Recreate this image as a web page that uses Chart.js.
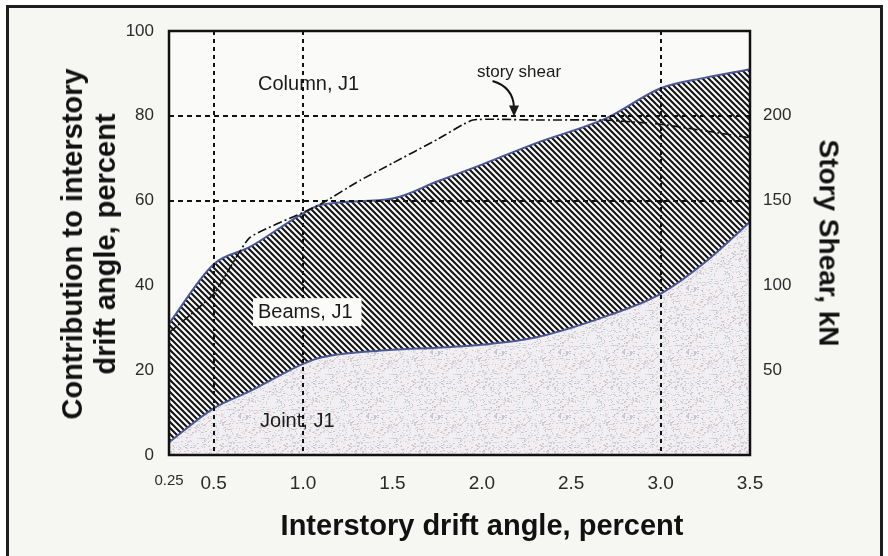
<!DOCTYPE html>
<html>
<head>
<meta charset="utf-8">
<title>Contribution to interstory drift angle</title>
<script src="https://cdn.jsdelivr.net/npm/chart.js@4.4.1/dist/chart.umd.min.js"></script>
<style>
  html, body { margin: 0; padding: 0; background: #fff; }
  #wrap  { position: relative; width: 888px; height: 556px; overflow: hidden; background: #fff; }
  #frame { position: absolute; left: 6px; top: 5px; width: 871px; height: 580px;
           border: 3px solid #1e1e1e; background: #f6f6f3; }
  #chart { position: absolute; left: 0; top: 0; }
  .ttl   { position: absolute; font-family: "Liberation Sans", Arial, sans-serif; font-weight: bold;
           color: #111; white-space: nowrap; text-align: center; }
</style>
</head>
<body>
<div id="wrap">
  <div id="frame"></div>
  <canvas id="chart" width="888" height="556"></canvas>
  <div class="ttl" style="left:89px;top:244px;font-size:29px;line-height:33px;transform:translate(-50%,-50%) rotate(-90deg)">Contribution to interstory<br>drift angle, percent</div>
  <div class="ttl" style="left:482px;top:525px;font-size:29px;line-height:29px;transform:translate(-50%,-50%)">Interstory drift angle, percent</div>
  <div class="ttl" style="left:829px;top:243px;font-size:28px;line-height:29px;transform:translate(-50%,-50%) rotate(90deg)">Story Shear, kN</div>
</div>

<script>
// ---- data ----
const drift      = [0.25, 0.5, 0.7, 1.0, 1.1, 1.5, 1.75, 2.0, 2.3, 2.7, 3.0, 3.25, 3.5];   // % drift
const jointPct   = [3, 11, 15, 21.5, 23, 24.8, 25.3, 26, 27.7, 32.8, 38, 45.5, 55];      // top of joint band
const beamTopPct = [31, 45, 49, 57, 59, 60.5, 64.5, 68.5, 73.5, 79.5, 86.5, 89, 91];     // top of beam band
const shearDrift = [0.25, 0.5, 0.7, 1.0, 1.1, 1.32, 1.5, 1.75, 1.95, 2.3, 2.68, 3.0, 3.5];
const shearKN    = [72, 95, 128, 143, 148, 162, 172, 186, 197.5, 197.5, 197.5, 195, 187];

const xTicks   = [0.25, 0.5, 1.0, 1.5, 2.0, 2.5, 3.0, 3.5];
const xGridAt  = [0.5, 1.0, 3.0];
const yGridAt  = [60, 80];

const FONT = '"Liberation Sans", Arial, sans-serif';
const INK  = '#2a2a2a';
const EDGE = '#4b5794';

const pts = (xs, ys) => xs.map((x, i) => ({ x, y: ys[i] }));

// diagonal hatch for the beam band
function hatchPattern() {
  const c = document.createElement('canvas');
  c.width = 6; c.height = 6;
  const g = c.getContext('2d');
  g.fillStyle = '#fbfbfb';
  g.fillRect(0, 0, 6, 6);
  g.strokeStyle = '#151515';
  g.lineWidth = 2.1;
  g.beginPath();
  g.moveTo(-1, -1); g.lineTo(7, 7);
  g.moveTo(5, -1);  g.lineTo(7, 1);
  g.moveTo(-1, 5);  g.lineTo(1, 7);
  g.stroke();
  return g.createPattern(c, 'repeat');
}

// grainy stipple for the joint band (fixed hash, always the same texture)
function stipplePattern() {
  const n = 64;
  const c = document.createElement('canvas');
  c.width = n; c.height = n;
  const g = c.getContext('2d');
  g.fillStyle = '#f1eff1';
  g.fillRect(0, 0, n, n);
  const cols = ['#d6c8cf', '#c9d0e0', '#e2d6d8', '#c4c4cc', '#dbe0ea', '#e6dadd', '#d0ced3'];
  let s = 91;
  const next = () => (s = (Math.imul(s, 1103515245) + 12345) >>> 0) >>> 8;
  for (let i = 0; i < 700; i++) {
    const x = next() % n, y = next() % n;
    g.fillStyle = cols[next() % cols.length];
    g.fillRect(x, y, 1 + next() % 2, 1);
  }
  return g.createPattern(c, 'repeat');
}

// ---- text labels, arrow and plot frame ----
const notes = {
  id: 'notes',
  beforeDraw(chart) {
    const { ctx, chartArea: a } = chart;
    ctx.save();
    ctx.fillStyle = '#fafaf8';
    ctx.fillRect(a.left, a.top, a.right - a.left, a.bottom - a.top);
    ctx.restore();
  },
  afterDraw(chart) {
    const { ctx, chartArea: a, scales: { x, y, y2 } } = chart;
    ctx.save();
    ctx.fillStyle = '#1a1a1a';
    ctx.textBaseline = 'middle';
    ctx.textAlign = 'left';
    ctx.font = '20px ' + FONT;

    const lx = x.getPixelForValue(0.748);
    ctx.fillText('Column, J1', lx, y.getPixelForValue(87.3));

    // beams label sits on a white patch cut out of the hatching
    const by = y.getPixelForValue(33.7);
    const bw = ctx.measureText('Beams, J1').width;
    ctx.fillStyle = '#fbfbfa';
    ctx.fillRect(lx - 5, by - 14, bw + 14, 28);
    ctx.fillStyle = '#1a1a1a';
    ctx.fillText('Beams, J1', lx, by);

    ctx.fillText('Joint, J1', lx + 2, y.getPixelForValue(7.8));

    // story shear callout
    ctx.font = '17px ' + FONT;
    ctx.fillText('story shear', x.getPixelForValue(1.973), y.getPixelForValue(90.3));
    const sx = x.getPixelForValue(2.06), sy = y.getPixelForValue(88.2);
    const tx = x.getPixelForValue(2.18), ty = y2.getPixelForValue(199) - 1;
    ctx.strokeStyle = '#111';
    ctx.lineWidth = 2;
    ctx.beginPath();
    ctx.moveTo(sx, sy);
    ctx.quadraticCurveTo(tx - 1, sy + 6, tx, ty - 9);
    ctx.stroke();
    ctx.beginPath();
    ctx.moveTo(tx, ty);
    ctx.lineTo(tx - 5, ty - 11);
    ctx.lineTo(tx + 5, ty - 11);
    ctx.closePath();
    ctx.fill();

    // plot frame
    ctx.strokeStyle = '#111';
    ctx.lineWidth = 2.5;
    ctx.strokeRect(a.left, a.top, a.right - a.left, a.bottom - a.top);
    ctx.restore();
  }
};

new Chart(document.getElementById('chart'), {
  type: 'line',
  data: {
    datasets: [
      {
        label: 'story shear',
        data: pts(shearDrift, shearKN),
        yAxisID: 'y2',
        borderColor: '#111',
        borderWidth: 1.6,
        borderDash: [9, 3, 2, 3],
        pointRadius: 0,
        tension: 0.15,
        fill: false
      },
      {
        label: 'Beams, J1',
        data: pts(drift, beamTopPct),
        borderColor: EDGE,
        borderWidth: 2,
        pointRadius: 0,
        cubicInterpolationMode: 'monotone',
        backgroundColor: hatchPattern(),
        fill: 2
      },
      {
        label: 'Joint, J1',
        data: pts(drift, jointPct),
        borderColor: EDGE,
        borderWidth: 2,
        pointRadius: 0,
        cubicInterpolationMode: 'monotone',
        backgroundColor: stipplePattern(),
        fill: 'origin'
      }
    ]
  },
  options: {
    responsive: false,
    animation: false,
    layout: { padding: { top: 31, left: 0, right: 0, bottom: 0 } },
    plugins: {
      legend: { display: false },
      tooltip: { enabled: false },
      filler: { drawTime: 'beforeDatasetsDraw' }
    },
    scales: {
      x: {
        type: 'linear',
        min: 0.25,
        max: 3.5,
        afterBuildTicks: s => { s.ticks = xTicks.map(v => ({ value: v })); },
        afterFit: s => { s.height = 101; },
        ticks: {
          color: INK,
          padding: 17,
          maxRotation: 0,
          autoSkip: false,
          callback: v => v === 0.25 ? '0.25' : v.toFixed(1),
          font: c => ({ family: FONT, size: c.tick && c.tick.value === 0.25 ? 15 : 19 })
        },
        grid: {
          drawTicks: false,
          lineWidth: 2,
          z: 1,
          color: c => c.tick && xGridAt.includes(c.tick.value) ? '#111' : 'transparent'
        },
        border: { display: false, dash: [4, 4] }
      },
      y: {
        position: 'left',
        min: 0,
        max: 100,
        afterFit: s => { s.width = 169; },
        ticks: { stepSize: 20, padding: 15, color: INK, font: { family: FONT, size: 17 } },
        grid: {
          drawTicks: false,
          lineWidth: 2,
          z: 1,
          color: c => c.tick && yGridAt.includes(c.tick.value) ? '#111' : 'transparent'
        },
        border: { display: false, dash: [5, 4] }
      },
      y2: {
        position: 'right',
        min: 0,
        max: 250,
        afterFit: s => { s.width = 138; },
        ticks: {
          stepSize: 50,
          padding: 5,
          color: INK,
          font: { family: FONT, size: 17 },
          callback: v => (v === 0 || v === 250) ? '' : v
        },
        grid: { display: false },
        border: { display: false }
      }
    }
  },
  plugins: [notes]
});
</script>
</body>
</html>
